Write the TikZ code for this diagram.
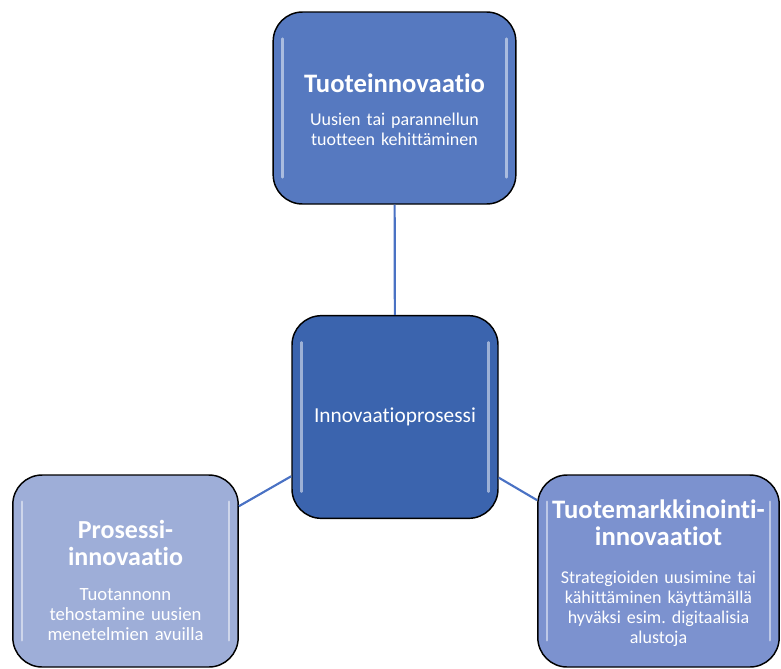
\documentclass[tikz,border=0pt]{standalone}
\usepackage{fontspec}
\setmainfont[Ligatures=NoCommon]{Carlito}
\frenchspacing

\definecolor{topblue}{RGB}{86,121,192}
\definecolor{midblue}{RGB}{59,100,174}
\definecolor{leftblue}{RGB}{158,174,216}
\definecolor{rightblue}{RGB}{124,146,207}
\definecolor{linkblue}{RGB}{74,114,196}

\newcommand{\titlefont}{\fontsize{20}{20.5}\selectfont\bfseries}

\begin{document}
\begin{tikzpicture}[x=0.75pt,y=-0.75pt,
	box/.style={draw=black, line width=1.1pt, rounded corners=22pt,
		text=white, align=center, inner sep=0pt,
		font=\fontsize{13.5}{15}\selectfont,
		path picture={
			\draw[white, opacity=.5, line width=1.8pt, line cap=round]
			([shift={(7pt,-20pt)}]path picture bounding box.north west)
			-- ([shift={(7pt,20pt)}]path picture bounding box.south west);
			\draw[white, opacity=.5, line width=1.8pt, line cap=round]
			([shift={(-7pt,-20pt)}]path picture bounding box.north east)
			-- ([shift={(-7pt,20pt)}]path picture bounding box.south east);
		}},
	link/.style={draw=linkblue, line width=1.6pt}]
	%		\draw[lightgray] (0,0) grid (781,668);
	\useasboundingbox (0,0) rectangle (781,668);
	
	\node[box, fill=topblue, minimum width=182pt, minimum height=144pt,
	text width=172pt] (tuote) at (394.5,108)
	{{\titlefont Tuoteinnovaatio\par}\vspace{10pt}
		Uusien tai parannellun\\tuotteen kehittäminen\par\vspace{-3pt}}; % top
	\node[box, fill=midblue, minimum width=154.5pt, minimum height=152pt,
	text width=148pt, font=\fontsize{16}{19}\selectfont] (prosessi) at (395,417)
	{Innovaatioprosessi}; % center
	\node[box, fill=leftblue, minimum width=169pt, minimum height=144pt,
	text width=162pt, font=\fontsize{14}{15}\selectfont] (menetelma) at (125.5,571)
	{{\titlefont\fontsize{19.5}{20.5}\selectfont Prosessi-\\innovaatio\par}\vspace{11.5pt}
		Tuotannonn\\tehostamine uusien\\menetelmien avuilla\par\vspace{-14pt}}; % left
	\node[box, fill=rightblue, minimum width=181pt, minimum height=144pt,
	text width=178pt] (markkina) at (658.5,571)
	{{\titlefont Tuotemarkkinointi-\\innovaatiot\par}\vspace{13pt}
		Strategioiden uusimine tai\\kähittäminen käyttämällä\\hyväksi esim. digitaalisia\\alustoja\par\vspace{-3pt}}; % right
	
	\draw[link] (tuote) -- (prosessi);
	\draw[link] (menetelma) -- (prosessi);
	\draw[link] (prosessi) -- (markkina);
\end{tikzpicture}
\end{document}
